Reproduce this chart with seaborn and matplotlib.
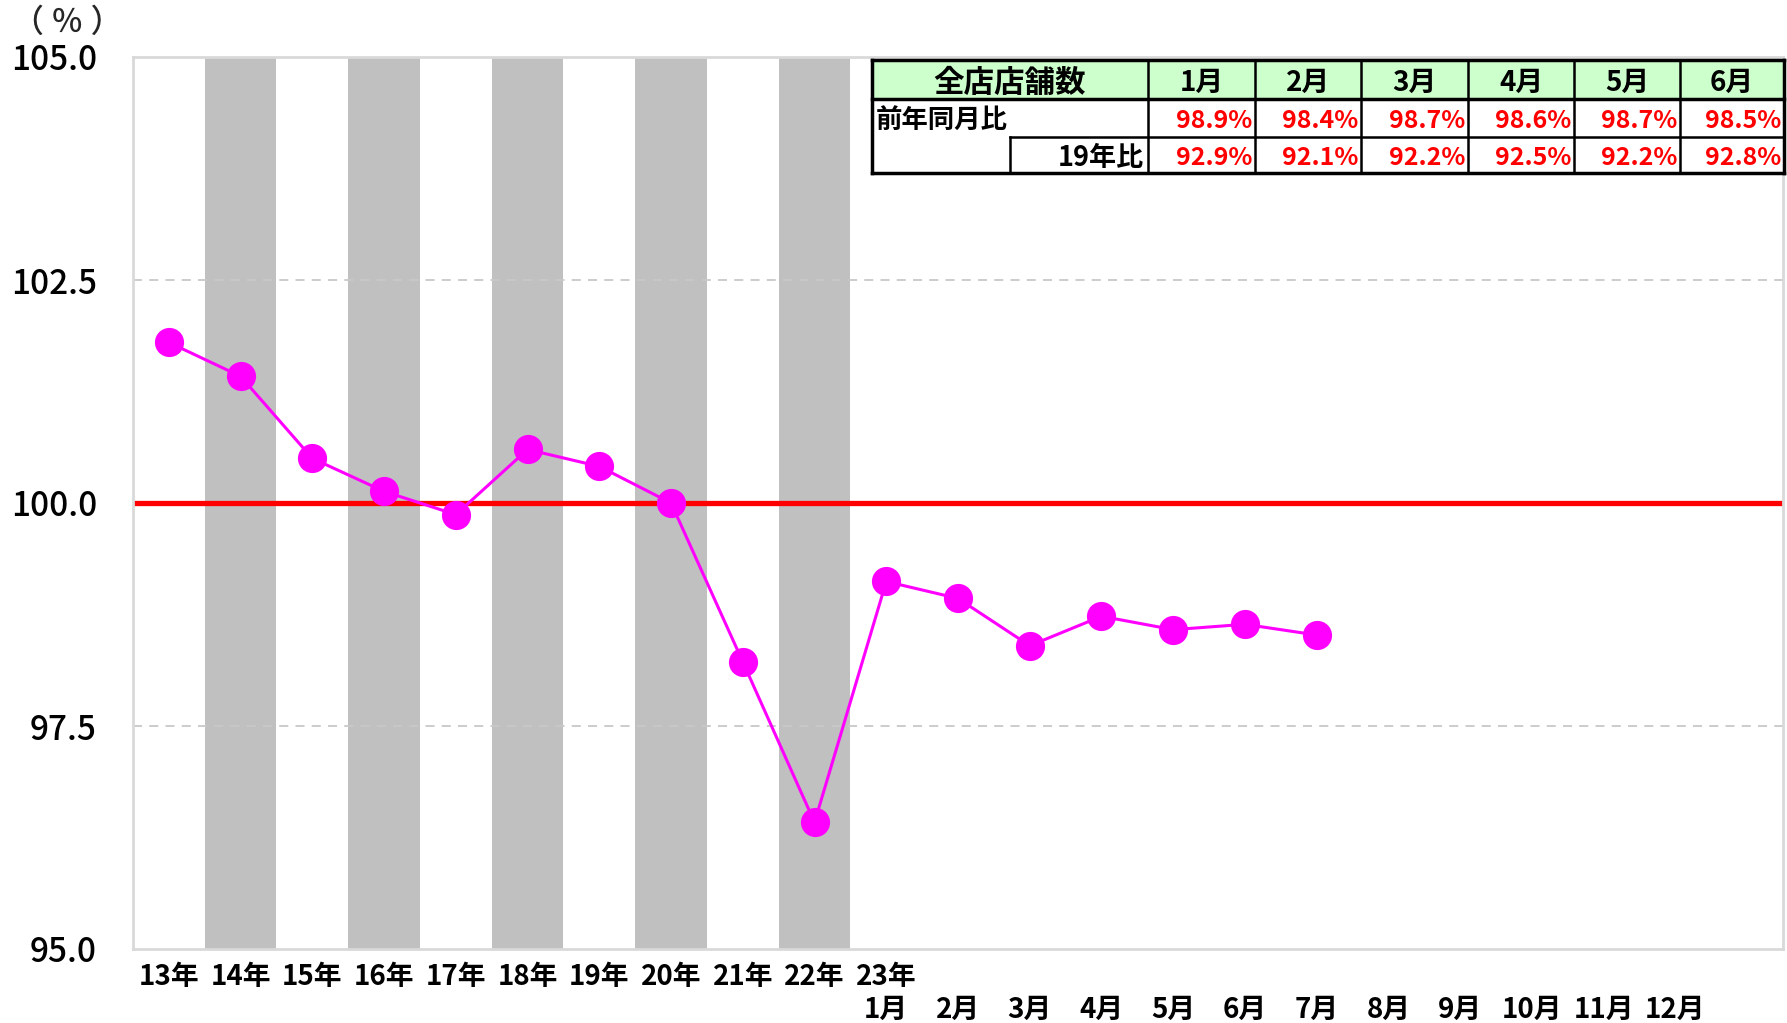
import matplotlib
matplotlib.use("Agg")
import matplotlib.pyplot as plt
from matplotlib.patches import Rectangle
import seaborn as sns
import pandas as pd
import numpy as np

# ---------------- data ----------------
categories = ["13年", "14年", "15年", "16年", "17年", "18年", "19年", "20年", "21年", "22年",
              "23年\n1月", "\n2月", "\n3月", "\n4月", "\n5月", "\n6月", "\n7月", "\n8月",
              "\n9月", "\n10月", "\n11月", "\n12月", ""]
values = [101.80, 101.42, 100.50, 100.13, 99.87, 100.60, 100.41, 100.00, 98.22, 96.42,
          99.12, 98.93, 98.40, 98.73, 98.58, 98.64, 98.52]
shaded = ["14年", "16年", "18年", "20年", "22年"]
yticks = [95.0, 97.5, 100.0, 102.5, 105.0]
grid_levels = [97.5, 102.5]
baseline = 100.0

table_header = ["全店店舗数", "1月", "2月", "3月", "4月", "5月", "6月"]
yoy_label = "前年同月比"
vs19_label = "19年比"
yoy_values = ["98.9%", "98.4%", "98.7%", "98.6%", "98.7%", "98.5%"]
vs19_values = ["92.9%", "92.1%", "92.2%", "92.5%", "92.2%", "92.8%"]

# ---------------- style ----------------
sns.set_theme(style="white")
plt.rcParams['font.family'] = ['Noto Sans CJK JP', 'DejaVu Sans']

W, H = 1787, 1023
fig = plt.figure(figsize=(W / 100, H / 100), dpi=100)
fig.patch.set_facecolor("white")

ax_l, ax_r, ax_t, ax_b = 133, 1783, 57, 949
ax = fig.add_axes([ax_l / W, 1 - ax_b / H, (ax_r - ax_l) / W, (ax_b - ax_t) / H])

n = len(categories)
for i, c in enumerate(categories):
    if c in shaded:
        ax.axvspan(i - 0.5, i + 0.5, color="#C0C0C0", lw=0, zorder=0)

for g in grid_levels:
    ax.axhline(g, color="#C8C8C8", lw=1.3, ls=(0, (5, 4)), zorder=1)
ax.axhline(baseline, color="#FF0000", lw=3.8, zorder=2)

df = pd.DataFrame({"pos": np.arange(len(values)), "value": values})
sns.lineplot(data=df, x="pos", y="value", color="#FF00FF", lw=2.2, marker="o",
             markersize=21, markeredgewidth=0, ax=ax, zorder=5)

ax.set_xlim(-0.5, n - 0.5)
ax.set_ylim(yticks[0], yticks[-1])
ax.set_xlabel("")
ax.set_ylabel("")

ax.set_xticks(np.arange(n))
ax.set_xticklabels(categories, fontsize=20, fontweight="bold", linespacing=1.25, va="top")
ax.set_xticks(np.arange(-0.5, n + 0.5, 1.0), minor=True)
ax.tick_params(axis="x", which="major", length=0, pad=10, colors="black")
ax.tick_params(axis="x", which="minor", direction="in", length=6, width=1.5, color="#D0D0D0")

ax.set_yticks(yticks)
ax.set_yticklabels([f"{v:.1f}" for v in yticks], fontsize=24, fontweight="medium")
ax.tick_params(axis="y", length=0, pad=26, colors="black")

for s in ax.spines.values():
    s.set_color("#D9D9D9")
    s.set_linewidth(2)
    s.set_visible(True)

fig.text(67 / W, 1 - 23 / H, "（ ％ ）", fontsize=23, fontweight="medium", ha="center", va="center")

# ---------------- table ----------------
tx0, tx1, ty0, ty1 = 872, 1784, 60, 173
tax = fig.add_axes([tx0 / W, 1 - ty1 / H, (tx1 - tx0) / W, (ty1 - ty0) / H])
tax.set_xlim(tx0, tx1)
tax.set_ylim(ty1, ty0)
tax.axis("off")

cols = [872, 1148, 1255, 1361, 1468, 1574, 1680, 1784]
rows = [60, 99, 137, 173]
sub_x = 1010

tax.add_patch(Rectangle((tx0, rows[0]), tx1 - tx0, rows[1] - rows[0],
                        facecolor="#CCFFCC", edgecolor="none", zorder=1))
tax.add_patch(Rectangle((tx0, rows[1]), tx1 - tx0, rows[3] - rows[1],
                        facecolor="white", edgecolor="none", zorder=1))

lk = dict(color="black", clip_on=False, zorder=3, solid_capstyle="projecting")
tax.plot([tx0, tx1], [rows[0], rows[0]], lw=2.5, **lk)
tax.plot([tx0, tx1], [rows[3], rows[3]], lw=2.5, **lk)
tax.plot([tx0, tx1], [rows[1], rows[1]], lw=2.5, **lk)
tax.plot([sub_x, tx1], [rows[2], rows[2]], lw=1.8, **lk)
tax.plot([tx0, tx0], [rows[0], rows[3]], lw=2.5, **lk)
tax.plot([tx1, tx1], [rows[0], rows[3]], lw=2.5, **lk)
for c in cols[1:-1]:
    tax.plot([c, c], [rows[0], rows[3]], lw=1.8, **lk)
tax.plot([sub_x, sub_x], [rows[2], rows[3]], lw=1.8, **lk)

for j, h in enumerate(table_header):
    cx = (cols[j] + cols[j + 1]) / 2
    tax.text(cx, (rows[0] + rows[1]) / 2 + 3, h, ha="center", va="center",
             fontsize=22 if j == 0 else 20, fontweight="bold", color="black", zorder=4)

tax.text(tx0 + 4, (rows[1] + rows[2]) / 2 + 3, yoy_label, ha="left", va="center",
         fontsize=19, fontweight="bold", color="black", zorder=4)
tax.text(cols[1] - 4, (rows[2] + rows[3]) / 2 + 3, vs19_label, ha="right", va="center",
         fontsize=19.5, fontweight="bold", color="black", zorder=4)

for j, (a, b) in enumerate(zip(yoy_values, vs19_values)):
    rx = cols[j + 2] - 3
    tax.text(rx, (rows[1] + rows[2]) / 2 + 3, a, ha="right", va="center",
             fontsize=18, fontweight="bold", color="#FF0000", zorder=4)
    tax.text(rx, (rows[2] + rows[3]) / 2 + 3, b, ha="right", va="center",
             fontsize=18, fontweight="bold", color="#FF0000", zorder=4)

fig.savefig("out.png", dpi=100, facecolor="white")
